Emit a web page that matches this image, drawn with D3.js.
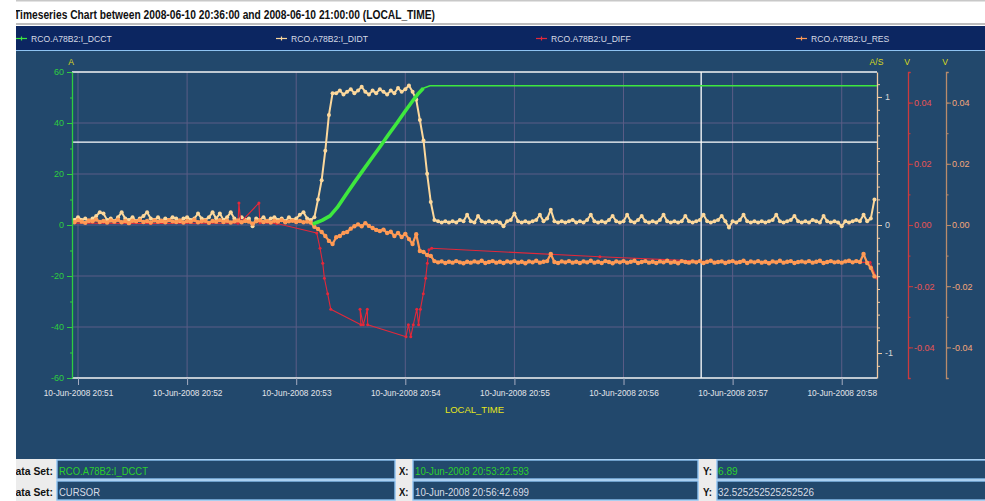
<!DOCTYPE html>
<html>
<head>
<meta charset="utf-8">
<title>Timeseries Chart</title>
<script src="https://cdn.jsdelivr.net/npm/d3@7/dist/d3.min.js"></script>
<style>
  body { margin: 0; background: #fff; }
  svg { display: block; }
  text { font-family: "Liberation Sans", Arial, sans-serif; }
</style>
</head>
<body>
<svg width="985" height="501" id="mainsvg"></svg>
<script>
// ---- data ----
const titleText = 'Timeseries Chart between 2008-06-10 20:36:00 and 2008-06-10 21:00:00 (LOCAL_TIME)';
const seriesNames = ['RCO.A78B2:I_DCCT', 'RCO.A78B2:I_DIDT', 'RCO.A78B2:U_DIFF', 'RCO.A78B2:U_RES'];
const timeTickLabels = ['10-Jun-2008 20:51', '10-Jun-2008 20:52', '10-Jun-2008 20:53', '10-Jun-2008 20:54',
  '10-Jun-2008 20:55', '10-Jun-2008 20:56', '10-Jun-2008 20:57', '10-Jun-2008 20:58'];
const ampTicks = [-60, -40, -20, 0, 20, 40, 60];
const ampMinorTicks = [-50, -30, -10, 10, 30, 50];
const didtTicks = [-1, 0, 1];
const voltTicks = [-0.04, -0.02, 0, 0.02, 0.04];
// visible window, seconds counted from 20:51:00
const viewSec = [-3.3, 439.4];

// I_DCCT (A)
const dcctSec = [129.2, 131.3, 134.2, 138.6, 142.6, 147.8, 152.3, 156.9, 161.5, 166.1, 170.5, 175.3, 179.8, 184.4, 187.2, 189.9, 193.6, 439.4];
const dcctVal = [0.3, 1.0, 1.8, 3.6, 6.89, 12.4, 17.0, 21.6, 26.2, 30.7, 35.2, 39.9, 44.5, 49.0, 51.6, 53.6, 54.6, 54.6];

// I_DIDT (A/s) and U_RES (V), logged every 2 s from -4 s
const sampleStartSec = -4, sampleStepSec = 2;
const didtVal = [
  0.05, 0.04, 0.06, 0.04, 0.05, 0.03, 0.05, 0.07, 0.10, 0.09,
  0.04, 0.05, 0.03, 0.06, 0.10, 0.05, 0.04, 0.06, 0.03, 0.05,
  0.07, 0.10, 0.05, 0.04, 0.06, 0.03, 0.05, 0.04, 0.06, 0.05,
  0.03, 0.05, 0.06, 0.04, 0.05, 0.09, 0.05, 0.04, 0.06, 0.10,
  0.05, 0.09, 0.04, 0.06, 0.10, 0.05, 0.03, 0.06, 0.04, 0.05,
  -0.01, 0.05, 0.04, 0.06, 0.03, 0.05, 0.06, 0.04, 0.05, 0.03,
  0.06, 0.04, 0.05, 0.08, 0.10, 0.05, 0.04,
  0.06, 0.20, 0.35, 0.58, 0.86, 1.03,
  1.03, 1.05, 1.02, 1.04, 1.06, 1.03, 1.05, 1.08, 1.04, 1.02, 1.05,
  1.03, 1.06, 1.04, 1.02, 1.05, 1.03, 1.07, 1.04, 1.06, 1.09, 1.04,
  0.98, 0.82, 0.66, 0.40, 0.18, 0.04,
  0.03, 0.02, 0.03, 0.02, 0.03, 0.02, 0.04, 0.03, 0.08, 0.03,
  0.02, 0.07, 0.03, 0.02, 0.03, 0.02, 0.03, 0.02, -0.01, 0.03,
  0.04, 0.09, 0.03, 0.02, 0.03, 0.02, 0.03, 0.04, 0.08, 0.03,
  0.05, 0.12, 0.03, 0.02, 0.03, 0.02, 0.03, 0.04, 0.02, 0.03,
  0.02, 0.04, 0.08, 0.03, 0.02, 0.03, 0.02, 0.04, 0.07, 0.03,
  0.02, 0.03, 0.08, 0.03, 0.02, 0.04, 0.07, 0.03, 0.02, 0.03,
  0.02, 0.04, 0.08, 0.03, 0.02, 0.03, 0.02, 0.03, 0.07, 0.03,
  0.02, 0.03, 0.04, 0.08, 0.03, 0.02, 0.03, 0.04, 0.07, 0.03,
  -0.02, 0.03, 0.02, 0.04, 0.08, 0.03, 0.02, 0.03, 0.02, 0.03,
  0.02, 0.03, 0.04, 0.08, 0.03, 0.02, 0.03, 0.04, 0.07, 0.03,
  0.02, 0.03, 0.02, 0.04, 0.03, 0.02, 0.07, 0.03, 0.02, 0.03,
  0.02, -0.01, 0.03, 0.02, 0.03, 0.04, 0.03, 0.08, 0.03, 0.05,
  0.20
];
const resVal = [
  0.0014, 0.0009, 0.0016, 0.0011, 0.0007, 0.0015, 0.0012, 0.0018, 0.0010, 0.0013,
  0.0008, 0.0015, 0.0011, 0.0017, 0.0009, 0.0013, 0.0006, 0.0014, 0.0012, 0.0016,
  0.0010, 0.0013, 0.0008, 0.0015, 0.0011, 0.0014, 0.0009, 0.0016, 0.0012, 0.0010,
  0.0015, 0.0008, 0.0013, 0.0011, 0.0017, 0.0009, 0.0012, 0.0014, 0.0007, 0.0013,
  0.0011, 0.0016, 0.0010, 0.0014, 0.0008, 0.0012, 0.0015, 0.0009, 0.0013, 0.0011,
  0.0004, 0.0012, 0.0015, 0.0010, 0.0013, 0.0008, 0.0014, 0.0011, 0.0016, 0.0009,
  0.0012, 0.0014, 0.0010, 0.0013, 0.0009, 0.0011, 0.0008,
  -0.0006, -0.0013, -0.0023, -0.0036, -0.0052, -0.0062, -0.0040, -0.0036, -0.0026, -0.0023,
  -0.0012, -0.0004, 0.0002, -0.0004, 0.0006, -0.0003, -0.0010, -0.0016, -0.0020, -0.0015,
  -0.0026, -0.0022, -0.0036, -0.0026, -0.0039, -0.0029, -0.0046, -0.0062, -0.0030, -0.0085,
  -0.0088, -0.0098, -0.0101, -0.0118,
  -0.0122, -0.0119, -0.0124, -0.0120, -0.0123, -0.0118, -0.0122, -0.0125, -0.0120, -0.0123,
  -0.0119, -0.0122, -0.0117, -0.0124, -0.0121, -0.0118, -0.0123, -0.0120, -0.0124, -0.0119,
  -0.0122, -0.0118, -0.0123, -0.0120, -0.0125, -0.0119, -0.0122, -0.0117, -0.0123, -0.0120,
  -0.0118, -0.0095, -0.0121, -0.0124, -0.0119, -0.0122, -0.0118, -0.0123, -0.0120, -0.0124,
  -0.0119, -0.0122, -0.0117, -0.0123, -0.0120, -0.0124, -0.0118, -0.0121, -0.0125, -0.0119,
  -0.0122, -0.0118, -0.0123, -0.0120, -0.0117, -0.0124, -0.0121, -0.0118, -0.0123, -0.0120,
  -0.0124, -0.0119, -0.0122, -0.0117, -0.0123, -0.0120, -0.0125, -0.0118, -0.0121, -0.0123,
  -0.0119, -0.0122, -0.0118, -0.0124, -0.0120, -0.0117, -0.0123, -0.0121, -0.0119, -0.0124,
  -0.0120, -0.0118, -0.0123, -0.0121, -0.0117, -0.0124, -0.0119, -0.0122, -0.0118, -0.0123,
  -0.0120, -0.0125, -0.0119, -0.0122, -0.0117, -0.0123, -0.0120, -0.0118, -0.0124, -0.0121,
  -0.0119, -0.0122, -0.0118, -0.0123, -0.0120, -0.0117, -0.0124, -0.0121, -0.0118, -0.0122,
  -0.0120, -0.0123, -0.0119, -0.0117, -0.0122, -0.0118, -0.0121, -0.0095, -0.0124, -0.0140,
  -0.0168
];

// U_DIFF (V), irregular samples
const diffSec = [-4, 40, 88.0, 88.5, 89.5, 99.5, 100.0, 109.3, 131.3, 133.1, 134.6, 135.5, 137.3, 139.0,
  155.6, 155.1, 156.9, 159.1, 159.3, 180.4, 181.7, 183.0, 184.4, 186.3, 187.3, 188.3, 189.9, 191.2,
  192.1, 193.0, 194.5, 287.0, 342.0, 435.6, 439.2];
const diffVal = [0.0006, 0.0005, 0.0006, 0.0072, 0.0009, 0.0072, 0.0007, 0.0005, -0.0026, -0.0076, -0.0125, -0.0174, -0.0225, -0.0275,
  -0.0326, -0.0275, -0.0326, -0.0275, -0.0326, -0.0365, -0.0326, -0.0365, -0.0326, -0.0275, -0.0326, -0.0275, -0.0225, -0.0174,
  -0.0125, -0.0081, -0.0076, -0.0104, -0.0118, -0.0122, -0.0173];

// cursor read-outs
const pickSeries = 'RCO.A78B2:I_DCCT', pickTime = '10-Jun-2008 20:53:22.593', pickValue = '6.89';
const cursorTime = '10-Jun-2008 20:56:42.699', cursorValue = 32.525252525252526;

// ---- layout ----
const svg = d3.select('#mainsvg');
const plotL = 72, plotR = 877, plotT = 72, plotB = 378;
const bg = '#22486c', grid = '#5b5d86', legendBg = '#0c2661', frame = '#8ec3f2';
const colDcct = '#3ee83e', colDidt = '#fcd89c', colDiff = '#e4283a', colRes = '#ff9a55';

const parseMinute = d3.timeParse('%d-%b-%Y %H:%M');
const parseMs = d3.timeParse('%d-%b-%Y %H:%M:%S.%L');
const t0 = parseMinute(timeTickLabels[0]);
const at = s => new Date(+t0 + s * 1000);
const tickDates = timeTickLabels.map(parseMinute);

const x = d3.scaleTime().domain(viewSec.map(at)).range([plotL, plotR]);
const yA = d3.scaleLinear().domain([-60, 60]).range([plotB, plotT]);
const yAS = d3.scaleLinear().domain([-1.195, 1.195]).range([plotB, plotT]);
const yV = d3.scaleLinear().domain([-0.05, 0.05]).range([plotB, plotT]);

// page background pieces
svg.append('rect').attr('width', 985).attr('height', 501).attr('fill', '#fff');
svg.append('rect').attr('x', 0).attr('y', 0).attr('width', 985).attr('height', 1.5).attr('fill', '#c8c8c8');
svg.append('rect').attr('x', 0).attr('y', 23).attr('width', 985).attr('height', 2).attr('fill', '#bdbdbd');
svg.append('text').text(titleText)
  .attr('x', 14).attr('y', 19).attr('font-size', 13.5).attr('font-weight', 'bold').attr('fill', '#111')
  .attr('textLength', 421).attr('lengthAdjust', 'spacingAndGlyphs');

svg.append('rect').attr('x', 16).attr('y', 26).attr('width', 969).attr('height', 434).attr('fill', bg);
svg.append('rect').attr('x', 16).attr('y', 26).attr('width', 969).attr('height', 24).attr('fill', legendBg);
svg.append('line').attr('x1', 16).attr('x2', 985).attr('y1', 50.5).attr('y2', 50.5)
  .attr('stroke', frame).attr('stroke-width', 1.2);

// legend
const legendColors = [colDcct, colDidt, colDiff, colRes];
const legend = svg.append('g');
seriesNames.forEach((name, i) => {
  const lx = 16 + 260 * i;
  legend.append('line').attr('x1', lx).attr('x2', lx + 11).attr('y1', 38.5).attr('y2', 38.5)
    .attr('stroke', legendColors[i]).attr('stroke-width', 1.2);
  legend.append('line').attr('x1', lx + 5.5).attr('x2', lx + 5.5).attr('y1', 36.5).attr('y2', 40.5)
    .attr('stroke', legendColors[i]).attr('stroke-width', 1.2);
  legend.append('text').text(name).attr('x', lx + 15).attr('y', 41.5)
    .attr('font-size', 8.6).attr('fill', '#d6dae6');
});

// grid
const g = svg.append('g');
g.selectAll('.vgrid').data(tickDates).join('line')
  .attr('x1', d => x(d)).attr('x2', d => x(d)).attr('y1', plotT).attr('y2', plotB)
  .attr('stroke', grid).attr('stroke-width', 1);
g.selectAll('.hgrid').data([-40, -20, 0, 20, 40]).join('line')
  .attr('x1', plotL).attr('x2', plotR).attr('y1', d => yA(d)).attr('y2', d => yA(d))
  .attr('stroke', grid).attr('stroke-width', 1);

// cursor cross-hair
g.append('line').attr('x1', plotL).attr('x2', plotR)
  .attr('y1', yA(cursorValue)).attr('y2', yA(cursorValue)).attr('stroke', '#fff').attr('stroke-width', 1.3);
g.append('line').attr('x1', x(parseMs(cursorTime))).attr('x2', x(parseMs(cursorTime)))
  .attr('y1', plotT).attr('y2', plotB).attr('stroke', '#fff').attr('stroke-width', 1.3);

// plot frame top / bottom
g.append('line').attr('x1', plotL).attr('x2', plotR).attr('y1', plotT).attr('y2', plotT)
  .attr('stroke', '#f4f4f4').attr('stroke-width', 1.5);
g.append('line').attr('x1', plotL).attr('x2', plotR).attr('y1', plotB).attr('y2', plotB)
  .attr('stroke', '#f4f4f4').attr('stroke-width', 1.5);

// data
svg.append('clipPath').attr('id', 'plotclip').append('rect')
  .attr('x', plotL).attr('y', plotT - 2).attr('width', plotR - plotL).attr('height', plotB - plotT + 4);
const plot = svg.append('g').attr('clip-path', 'url(#plotclip)');

const sampled = vals => vals.map((v, i) => ({t: at(sampleStartSec + i * sampleStepSec), v}));
const paired = (secs, vals) => secs.map((s, i) => ({t: at(s), v: vals[i]}));

function drawSeries(pts, yScale, color, width, r) {
  const line = d3.line().x(d => x(d.t)).y(d => yScale(d.v));
  plot.append('path').datum(pts).attr('d', line).attr('fill', 'none')
    .attr('stroke', color).attr('stroke-width', width).attr('stroke-linejoin', 'round');
  if (r > 0) {
    plot.append('g').selectAll('circle').data(pts).join('circle')
      .attr('cx', d => x(d.t)).attr('cy', d => yScale(d.v)).attr('r', r).attr('fill', color);
  }
}

drawSeries(sampled(didtVal), yAS, colDidt, 2, 2);
drawSeries(paired(diffSec, diffVal), yV, colDiff, 1.1, 1.5);
drawSeries(sampled(resVal), yV, colRes, 2.2, 2.2);
const dcctPts = paired(dcctSec, dcctVal);
drawSeries(dcctPts, yA, colDcct, 1.5, 0);
// the ramp is drawn with dense markers in the original, so it reads thicker
drawSeries(dcctPts.filter(d => d.v < 54), yA, colDcct, 3.6, 0);

// axes
function styleAxis(sel, lineColor, textColor, size) {
  sel.selectAll('path.domain').attr('stroke', lineColor).attr('stroke-width', 1.3);
  sel.selectAll('.tick line').attr('stroke', lineColor);
  sel.selectAll('.tick text').attr('fill', textColor).attr('font-size', size)
    .attr('font-family', '"Liberation Sans", Arial, sans-serif');
}

// left (A)
const axA = svg.append('g').attr('transform', `translate(${plotL},0)`)
  .call(d3.axisLeft(yA).tickValues(ampTicks).tickSize(5).tickSizeOuter(0).tickFormat(d => String(d)));
styleAxis(axA, '#2ecc40', '#2ecc40', 9);
svg.append('g').attr('transform', `translate(${plotL},0)`)
  .call(d3.axisLeft(yA).tickValues(ampMinorTicks).tickSize(2).tickSizeOuter(0).tickFormat(''))
  .call(s => { s.select('.domain').remove(); s.selectAll('line').attr('stroke', '#2ecc40'); });

// bottom (time)
const axT = svg.append('g').attr('transform', `translate(0,${plotB})`)
  .call(d3.axisBottom(x).tickValues(tickDates).tickSize(7).tickSizeOuter(0)
    .tickFormat(d3.timeFormat('%d-%b-%Y %H:%M')));
axT.select('.domain').remove();
styleAxis(axT, '#a4abc0', '#e2e4ea', 8.3);
axT.selectAll('.tick text').attr('y', 12);

// right A/S
const asColor = '#f2c9a1';
svg.append('g').attr('transform', `translate(${plotR},0)`)
  .call(d3.axisRight(yAS).tickValues(yAS.ticks(24)).tickSize(3).tickSizeOuter(0).tickFormat(''))
  .call(s => { s.select('.domain').remove(); s.selectAll('line').attr('stroke', asColor); });
const axAS = svg.append('g').attr('transform', `translate(${plotR},0)`)
  .call(d3.axisRight(yAS).tickValues(didtTicks).tickSize(5).tickSizeOuter(0).tickPadding(3)
    .tickFormat(d => String(d)));
styleAxis(axAS, asColor, '#d8d8d8', 9);

// two V axes
function voltAxis(xpos, lineColor, textColor) {
  svg.append('g').attr('transform', `translate(${xpos},0)`)
    .call(d3.axisRight(yV).tickValues(yV.ticks(10)).tickSize(2.5).tickSizeOuter(0).tickFormat(''))
    .call(s => { s.select('.domain').remove(); s.selectAll('line').attr('stroke', lineColor); });
  const ax = svg.append('g').attr('transform', `translate(${xpos},0)`)
    .call(d3.axisRight(yV).tickValues(voltTicks).tickSize(5).tickSizeOuter(2.5).tickPadding(1)
      .tickFormat(d => d.toFixed(2)));
  styleAxis(ax, lineColor, textColor, 9);
}
voltAxis(908, '#cc3a3e', '#e85454');
voltAxis(946, '#b98b6c', '#f3a779');

// unit labels
const unitColor = '#d8d820';
[['A', 71], ['A/S', 876.5], ['V', 907], ['V', 945]].forEach(([u, ux]) => {
  svg.append('text').text(u).attr('x', ux).attr('y', 64.5).attr('text-anchor', 'middle')
    .attr('font-size', 8.6).attr('fill', unitColor);
});
svg.append('text').text('LOCAL_TIME').attr('x', (plotL + plotR) / 2).attr('y', 412.5)
  .attr('text-anchor', 'middle').attr('font-size', 9.5).attr('fill', '#e6e61a');

// read-out rows
svg.append('rect').attr('x', 0).attr('y', 459).attr('width', 985).attr('height', 42).attr('fill', '#ececec');
const rows = [
  {y: 460, base: 475, name: pickSeries, nameLen: 89, xs: pickTime, ys: pickValue, yLen: 19.7, color: '#2bd02b'},
  {y: 481, base: 495.5, name: 'CURSOR', nameLen: 41, xs: cursorTime, ys: String(cursorValue), yLen: 96, color: '#d8dce6'}
];
rows.forEach(r => {
  [[57, 395], [413, 698], [717, 986]].forEach(([a, b]) => {
    svg.append('rect').attr('x', a).attr('y', r.y).attr('width', b - a).attr('height', 19)
      .attr('fill', bg).attr('stroke', frame).attr('stroke-width', 1.4);
  });
  const lab = (t, tx, len) => svg.append('text').text(t).attr('x', tx).attr('y', r.base)
    .attr('font-size', 11.5).attr('font-weight', 'bold').attr('fill', '#111')
    .attr('textLength', len).attr('lengthAdjust', 'spacingAndGlyphs');
  lab('Data Set:', 8, 45);
  lab('X:', 399, 9.5);
  lab('Y:', 703, 9);
  const val = (t, tx, len) => svg.append('text').text(t).attr('x', tx).attr('y', r.base)
    .attr('font-size', 11.5).attr('fill', r.color)
    .attr('textLength', len).attr('lengthAdjust', 'spacingAndGlyphs');
  val(r.name, 59, r.nameLen);
  val(r.xs, 415, 114);
  val(r.ys, 718, r.yLen);
});

// blank strip on the far left of the capture
svg.append('rect').attr('x', 0).attr('y', 0).attr('width', 16).attr('height', 501).attr('fill', '#fff');
</script>
</body>
</html>
